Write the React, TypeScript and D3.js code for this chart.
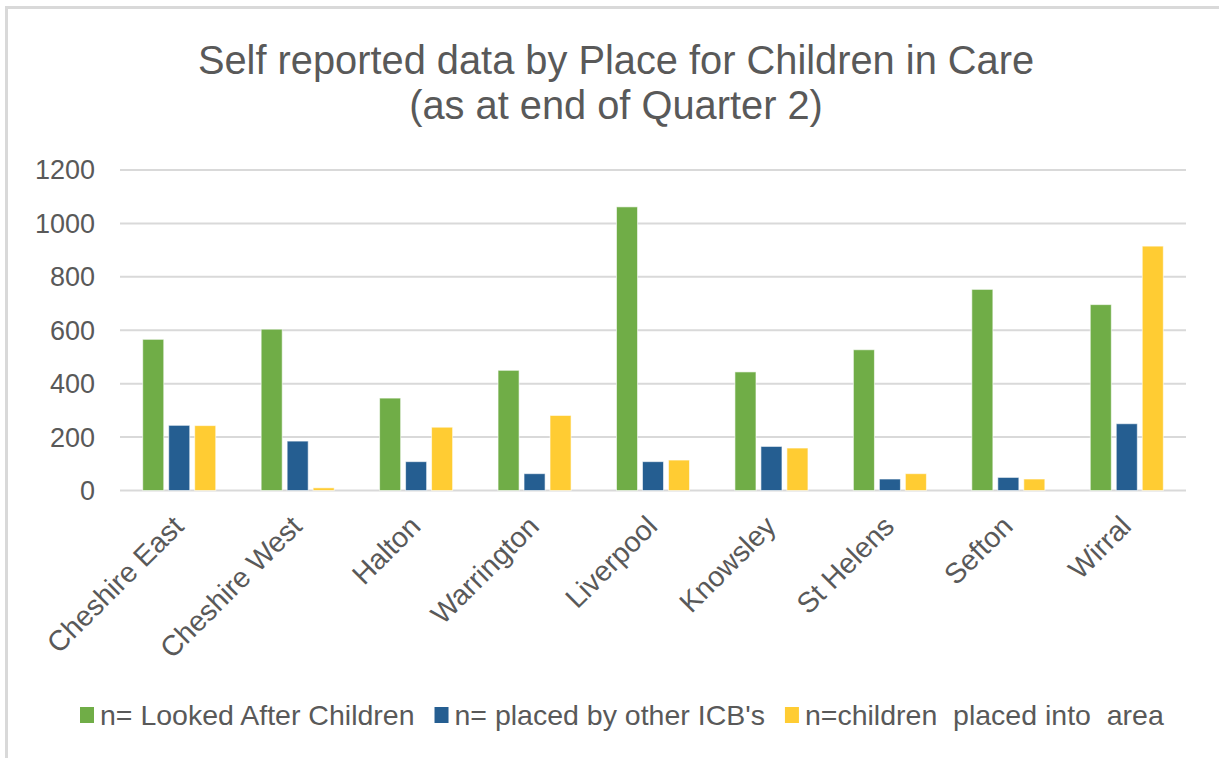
import React, { useEffect, useRef } from "react";
import * as d3 from "d3";

// Places and the three reported counts per place
const places = [
  "Cheshire East",
  "Cheshire West",
  "Halton",
  "Warrington",
  "Liverpool",
  "Knowsley",
  "St Helens",
  "Sefton",
  "Wirral",
];
const lookedAfter = [566, 604, 346, 450, 1062, 444, 527, 753, 696];
const placedByOther = [244, 185, 108, 63, 108, 165, 43, 49, 250];
const placedInto = [243, 10, 237, 281, 114, 159, 63, 43, 915];

const seriesNames = [
  "n= Looked After Children",
  "n= placed by other ICB's",
  "n=children  placed into  area",
];
const seriesValues = [lookedAfter, placedByOther, placedInto];
const seriesColors = ["#70AD47", "#255E91", "#FFCC33"];

const yTicks = [0, 200, 400, 600, 800, 1000, 1200];
const titleLines = [
  "Self reported data by Place for Children in Care",
  "(as at end of Quarter 2)",
];

const W = 1219;
const H = 758;
const FONT = "'Liberation Sans', Arial, sans-serif";
const TEXT = "#595959";
const GRID = "#D9D9D9";

export default function App() {
  const ref = useRef<SVGSVGElement | null>(null);

  useEffect(() => {
    const svg = d3.select(ref.current);
    svg.selectAll("*").remove();

    const plot = { left: 120, right: 1186, top: 170, bottom: 490.5 };

    // outer frame (top and left edges)
    svg
      .append("path")
      .attr("d", `M6.5,${H} V7.5 H${W}`)
      .attr("fill", "none")
      .attr("stroke", GRID)
      .attr("stroke-width", 3);

    // title
    const title = svg
      .append("text")
      .attr("text-anchor", "middle")
      .attr("font-family", FONT)
      .attr("font-size", 39.8)
      .attr("fill", TEXT);
    titleLines.forEach((t, i) => {
      title
        .append("tspan")
        .attr("x", 616)
        .attr("y", 74 + i * 45)
        .text(t);
    });

    const x0 = d3
      .scaleBand<string>()
      .domain(places)
      .range([plot.left, plot.right])
      .paddingInner(0.3834)
      .paddingOuter(0.1917);
    const x1 = d3
      .scaleBand<number>()
      .domain([0, 1, 2])
      .range([0, x0.bandwidth()])
      .paddingInner(0.19);
    const y = d3.scaleLinear().domain([0, 1200]).range([plot.bottom, plot.top]);

    // gridlines
    svg
      .append("g")
      .selectAll("line")
      .data(yTicks)
      .join("line")
      .attr("x1", plot.left)
      .attr("x2", plot.right)
      .attr("y1", (d) => y(d))
      .attr("y2", (d) => y(d))
      .attr("stroke", GRID)
      .attr("stroke-width", 2);

    // y tick labels
    svg
      .append("g")
      .selectAll("text")
      .data(yTicks)
      .join("text")
      .attr("x", 95)
      .attr("y", (d) => y(d))
      .attr("dy", "0.35em")
      .attr("text-anchor", "end")
      .attr("font-family", FONT)
      .attr("font-size", 27)
      .attr("fill", TEXT)
      .text((d) => String(d));

    // bars
    const groups = svg
      .append("g")
      .selectAll("g")
      .data(places)
      .join("g")
      .attr("transform", (d) => `translate(${x0(d)},0)`);
    groups
      .selectAll("rect")
      .data((_, i) => seriesValues.map((vals, s) => ({ s, v: vals[i] })))
      .join("rect")
      .attr("x", (d) => x1(d.s)!)
      .attr("width", x1.bandwidth())
      .attr("y", (d) => y(d.v))
      .attr("height", (d) => y(0) - y(d.v))
      .attr("fill", (d) => seriesColors[d.s])
      .attr("stroke", "#FFFFFF")
      .attr("stroke-opacity", 0.6)
      .attr("stroke-width", 1);

    // category labels, rotated
    svg
      .append("g")
      .selectAll("text")
      .data(places)
      .join("text")
      .attr("transform", (d) => {
        const cx = x0(d)! + x0.bandwidth() / 2 - 1;
        return `translate(${cx},521) rotate(-45)`;
      })
      .attr("text-anchor", "end")
      .attr("dy", "0.35em")
      .attr("font-family", FONT)
      .attr("font-size", 28.5)
      .attr("fill", TEXT)
      .text((d) => d);

    // legend
    const legend = svg.append("g").attr("transform", "translate(80,715)");
    let cursor = 0;
    seriesNames.forEach((name, i) => {
      const item = legend.append("g").attr("transform", `translate(${cursor},0)`);
      item
        .append("rect")
        .attr("x", 0)
        .attr("y", -8)
        .attr("width", 14)
        .attr("height", 16)
        .attr("fill", seriesColors[i]);
      const label = item
        .append("text")
        .attr("x", 20)
        .attr("dy", "0.35em")
        .attr("font-family", FONT)
        .attr("font-size", 28.5)
        .attr("fill", TEXT)
        .style("white-space", "pre")
        .text(name);
      const w = (label.node() as SVGTextElement).getComputedTextLength();
      cursor += 20 + w + 20;
    });
  }, []);

  return (
    <svg
      ref={ref}
      width={W}
      height={H}
      style={{ position: "absolute", left: 0, top: 0, background: "#FFFFFF" }}
    />
  );
}
